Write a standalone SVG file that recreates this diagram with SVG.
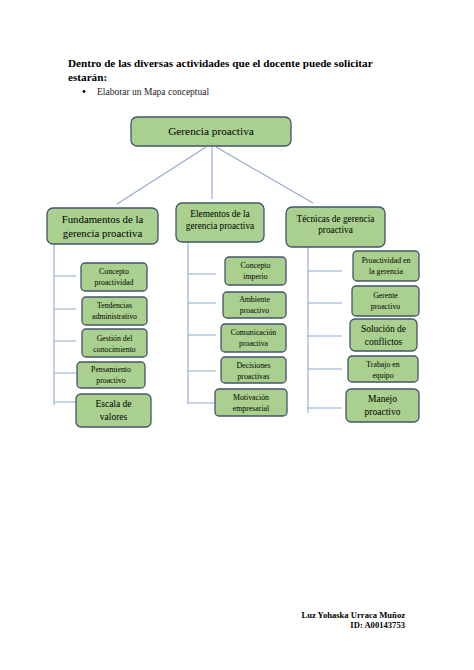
<svg xmlns="http://www.w3.org/2000/svg" width="474" height="670" viewBox="0 0 474 670">
<style>
.bx{fill:#a9d08e;stroke:#44546a;stroke-width:1.3}
.t{font-family:"Liberation Serif",serif;fill:#000;text-anchor:middle}
.s{font-size:7.8px}
.m{font-size:9.5px}
.cn{stroke:#8ea9cf;stroke-width:1.1;fill:none}
.h{font-family:"Liberation Serif",serif;font-weight:bold;font-size:11.2px;fill:#000}
.f{font-family:"Liberation Serif",serif;font-weight:bold;font-size:8.6px;fill:#000;text-anchor:end}
</style>
<rect width="474" height="670" fill="#fff"/>
<text class="h" x="68" y="67">Dentro de las diversas actividades que el docente puede solicitar</text>
<text class="h" x="68" y="81">estarán:</text>
<circle cx="84" cy="91.5" r="1.4" fill="#000"/>
<text x="97" y="95" style="font-family:'Liberation Serif',serif;font-size:9.5px;fill:#222">Elaborar un Mapa conceptual</text>

<g id="connectors">
<path class="cn" d="M206 147L117 204M212 147V199M216 147L313 203"/>
<path class="cn" d="M54 244V405M54 276H76M54 309H76M54 341H76M54 373H76M54 402H76"/>
<path class="cn" d="M188 242V404M188 274H216M188 303H216M188 335H216M188 371H216M188 403H216"/>
<path class="cn" d="M308 247V413M308 271H342M308 303H342M308 336H342M308 369H342M308 408H342"/>
</g>

<g id="n-root"><rect class="bx" x="131" y="117" width="160" height="29" rx="6"/><text class="t" x="211" y="135" font-size="11.3px">Gerencia proactiva</text></g>

<g id="n-fund"><rect class="bx" x="47" y="208" width="111" height="36" rx="6"/><text class="t" x="102.5" y="223" font-size="10.8px">Fundamentos de la</text><text class="t" x="102.5" y="237" font-size="10.8px">gerencia proactiva</text></g>
<g id="n-elem"><rect class="bx" x="176" y="203" width="88" height="39" rx="6"/><text class="t" x="220" y="217" font-size="9.3px">Elementos de la</text><text class="t" x="220" y="229" font-size="9.3px">gerencia proactiva</text></g>
<g id="n-tec"><rect class="bx" x="286" y="207" width="99" height="40" rx="6"/><text class="t" x="335.5" y="222" font-size="9.3px">Técnicas de gerencia</text><text class="t" x="335.5" y="233" font-size="9.3px">proactiva</text></g>

<g id="n-f1"><rect class="bx" x="81" y="263" width="66" height="28" rx="4"/><text class="t s" x="114" y="274">Concepto</text><text class="t s" x="114" y="285">proactividad</text></g>
<g id="n-f2"><rect class="bx" x="82" y="297" width="65" height="28" rx="4"/><text class="t s" x="114.5" y="308">Tendencias</text><text class="t s" x="114.5" y="319">administrativo</text></g>
<g id="n-f3"><rect class="bx" x="82" y="329" width="65" height="28" rx="4"/><text class="t s" x="114.5" y="341">Gestión del</text><text class="t s" x="114.5" y="352">conocimiento</text></g>
<g id="n-f4"><rect class="bx" x="77" y="362" width="68" height="26" rx="4"/><text class="t s" x="111" y="372">Pensamiento</text><text class="t s" x="111" y="383">proactivo</text></g>
<g id="n-f5"><rect class="bx" x="76" y="394" width="75" height="33" rx="5"/><text class="t m" x="113.5" y="407">Escala de</text><text class="t m" x="113.5" y="420">valores</text></g>

<g id="n-e1"><rect class="bx" x="225" y="257" width="61" height="28" rx="4"/><text class="t s" x="255.5" y="268">Concepto</text><text class="t s" x="255.5" y="279">imperio</text></g>
<g id="n-e2"><rect class="bx" x="223" y="292" width="63" height="26" rx="4"/><text class="t s" x="254.5" y="302">Ambiente</text><text class="t s" x="254.5" y="313">proactivo</text></g>
<g id="n-e3"><rect class="bx" x="221" y="324" width="65" height="28" rx="4"/><text class="t s" x="253.5" y="335">Comunicación</text><text class="t s" x="253.5" y="346">proactiva</text></g>
<g id="n-e4"><rect class="bx" x="221" y="357" width="65" height="26" rx="4"/><text class="t s" x="253.5" y="368">Decisiones</text><text class="t s" x="253.5" y="379">proactivas</text></g>
<g id="n-e5"><rect class="bx" x="215" y="389" width="72" height="27" rx="4"/><text class="t s" x="251" y="400">Motivación</text><text class="t s" x="251" y="411">empresarial</text></g>

<g id="n-t1"><rect class="bx" x="353" y="251" width="66" height="30" rx="4"/><text class="t s" x="386" y="263">Proactividad en</text><text class="t s" x="386" y="274">la gerencia</text></g>
<g id="n-t2"><rect class="bx" x="352" y="286" width="67" height="30" rx="4"/><text class="t s" x="385.5" y="298">Gerente</text><text class="t s" x="385.5" y="309">proactivo</text></g>
<g id="n-t3"><rect class="bx" x="350" y="319" width="67" height="32" rx="5"/><text class="t m" x="383.5" y="332">Solución de</text><text class="t m" x="383.5" y="345">conflictos</text></g>
<g id="n-t4"><rect class="bx" x="348" y="356" width="70" height="26" rx="4"/><text class="t s" x="383" y="367">Trabajo en</text><text class="t s" x="383" y="378">equipo</text></g>
<g id="n-t5"><rect class="bx" x="346" y="389" width="73" height="33" rx="5"/><text class="t m" x="382.5" y="402">Manejo</text><text class="t m" x="382.5" y="415">proactivo</text></g>

<text class="f" x="405" y="618">Luz Yohaska Urraca Muñoz</text>
<text class="f" x="405" y="628">ID: A00143753</text>
</svg>
